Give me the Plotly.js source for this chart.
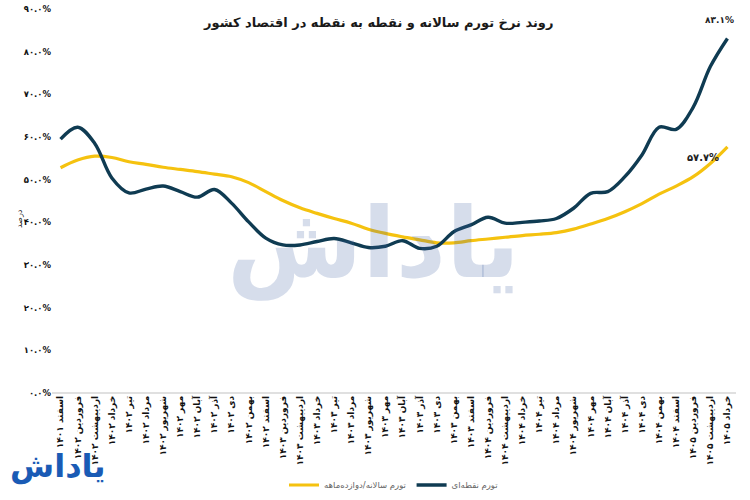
<!DOCTYPE html>
<html>
<head>
<meta charset="utf-8">
<script src="https://cdn.plot.ly/plotly-3.0.1.min.js"></script>
<style>html,body{margin:0;padding:0;background:#fff;}#chart{width:750px;height:500px;}</style>
</head>
<body>
<div id="chart"></div>
<script>
// ---- data ----
var months = ['اسفند ۱۴۰۱',
  'فروردین ۱۴۰۲','اردیبهشت ۱۴۰۲','خرداد ۱۴۰۲','تیر ۱۴۰۲','مرداد ۱۴۰۲','شهریور ۱۴۰۲','مهر ۱۴۰۲','آبان ۱۴۰۲','آذر ۱۴۰۲','دی ۱۴۰۲','بهمن ۱۴۰۲','اسفند ۱۴۰۲',
  'فروردین ۱۴۰۳','اردیبهشت ۱۴۰۳','خرداد ۱۴۰۳','تیر ۱۴۰۳','مرداد ۱۴۰۳','شهریور ۱۴۰۳','مهر ۱۴۰۳','آبان ۱۴۰۳','آذر ۱۴۰۳','دی ۱۴۰۳','بهمن ۱۴۰۳','اسفند ۱۴۰۳',
  'فروردین ۱۴۰۴','اردیبهشت ۱۴۰۴','خرداد ۱۴۰۴','تیر ۱۴۰۴','مرداد ۱۴۰۴','شهریور ۱۴۰۴','مهر ۱۴۰۴','آبان ۱۴۰۴','آذر ۱۴۰۴','دی ۱۴۰۴','بهمن ۱۴۰۴','اسفند ۱۴۰۴',
  'فروردین ۱۴۰۵','اردیبهشت ۱۴۰۵','خرداد ۱۴۰۵'];
var pointInflation = [59.5, 62.3, 58.5, 50.4, 46.9, 47.8, 48.5, 47.2, 45.9, 47.7, 44.5, 40.1, 36.3,
  34.7, 34.7, 35.5, 36.2, 35.2, 34.1, 34.4, 35.7, 33.9, 34.4, 37.8, 39.4,
  41.2, 39.8, 40.0, 40.3, 40.9, 43.3, 46.8, 47.2, 50.7, 55.8, 62.3, 61.8,
  67.0, 76.5, 83.1];
var annualInflation = [52.8, 54.6, 55.5, 55.2, 54.2, 53.6, 52.9, 52.4, 51.9, 51.3, 50.7, 49.3, 47.2,
  45.1, 43.4, 42.1, 40.9, 39.8, 38.4, 37.4, 36.6, 35.9, 35.2, 35.2, 35.7,
  36.1, 36.5, 36.9, 37.2, 37.6, 38.4, 39.6, 40.9, 42.5, 44.4, 46.6, 48.5,
  50.7, 53.8, 57.7];
var yTickVals = [0,10,20,30,40,50,60,70,80,90];
var yTickText = ['۰.۰%','۱۰.۰%','۲۰.۰%','۳۰.۰%','۴۰.۰%','۵۰.۰%','۶۰.۰%','۷۰.۰%','۸۰.۰%','۹۰.۰%'];
var pointLast = '۸۳.۱%';
var annualLast = '۵۷.۷%';
var nameAnnual = 'تورم سالانه/دوازده‌ماهه';
var namePoint = 'تورم نقطه‌ای';
var titleText = 'روند نرخ تورم سالانه و نقطه به نقطه در اقتصاد کشور';

var FONT = 'DejaVu Sans, Noto Sans, sans-serif';
var NAVY = '#0f3b52';
var YELLOW = '#f5c20f';

var traces = [
  {x: months, y: annualInflation, name: nameAnnual, type: 'scatter', mode: 'lines',
   line: {color: YELLOW, width: 3.2, shape: 'spline', smoothing: 1}},
  {x: months, y: pointInflation, name: namePoint, type: 'scatter', mode: 'lines',
   line: {color: NAVY, width: 3.4, shape: 'spline', smoothing: 1}}
];

var last = months.length - 1;
var layout = {
  width: 750, height: 500,
  margin: {l: 52, r: 14, t: 9, b: 107},
  paper_bgcolor: '#fff', plot_bgcolor: '#fff',
  font: {family: FONT, color: '#222'},
  title: {text: '<b>' + titleText + '</b>', font: {size: 13, color: '#1a1a1a', family: FONT},
          x: 0.505, xanchor: 'center', y: 0.956, yanchor: 'middle', yref: 'container'},
  showlegend: true,
  legend: {orientation: 'h', x: 0.5, xanchor: 'center', y: 0.03, yanchor: 'middle', yref: 'container',
           font: {size: 8.5, color: '#666', family: FONT}, traceorder: 'normal', itemwidth: 30},
  xaxis: {type: 'category', range: [-0.5, last + 0.5], tickangle: -90,
          tickfont: {size: 9, color: '#111', family: FONT, weight: 'bold'},
          showgrid: false, zeroline: false, showline: false, ticks: '', automargin: false},
  yaxis: {range: [0, 90], tickvals: yTickVals, ticktext: yTickText,
          tickfont: {size: 8.5, color: '#111', family: FONT, weight: 'bold'},
          showgrid: true, gridcolor: 'rgba(0,0,0,0)', zeroline: true, zerolinecolor: '#e0e0e0', zerolinewidth: 1.5,
          showline: false, ticks: '', ticklen: 0, automargin: false},
  annotations: [
    {text: '<b>یاداش</b>', xref: 'paper', yref: 'paper', x: 0.47, y: 0.39, xanchor: 'center', yanchor: 'middle',
     showarrow: false, font: {size: 98, color: 'rgba(70,100,165,0.22)', family: FONT}},
    {text: 'درصد', xref: 'paper', yref: 'paper', x: -0.058, y: 0.455, textangle: -90,
     showarrow: false, font: {size: 8, color: '#222', family: FONT}},
    {text: '<b>' + pointLast + '</b>', x: last, y: pointInflation[last], xref: 'x', yref: 'y',
     showarrow: false, yshift: 18, xshift: -8, font: {size: 9, color: '#222', family: FONT}},
    {text: '<b>' + annualLast + '</b>', x: last, y: annualInflation[last], xref: 'x', yref: 'y',
     showarrow: false, yshift: -11, xshift: -24, font: {size: 10, color: '#222', family: FONT}},
    {text: '<b>یاداش</b>', xref: 'paper', yref: 'paper', x: -0.065, y: -0.19, xanchor: 'left', yanchor: 'middle',
     showarrow: false, font: {size: 32, color: '#1a5bb5', family: FONT}}
  ]
};

Plotly.newPlot('chart', traces, layout, {displayModeBar: false, staticPlot: true});
</script>
</body>
</html>
